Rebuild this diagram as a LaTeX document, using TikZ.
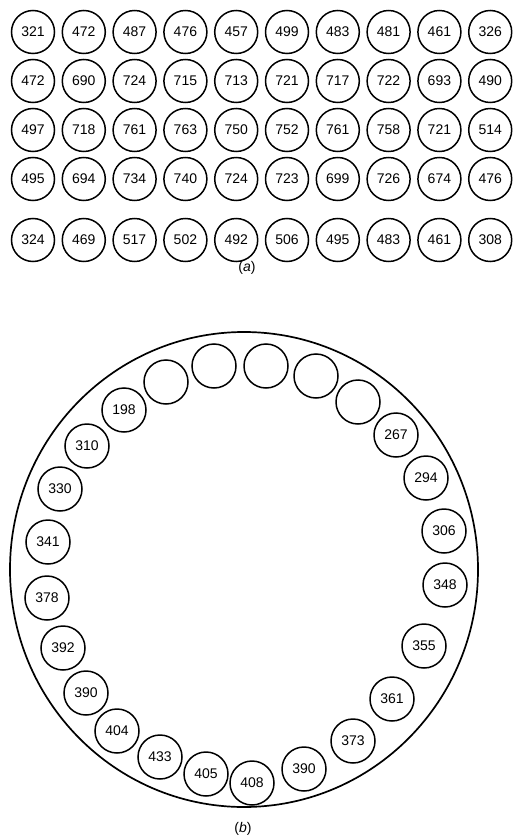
\documentclass[tikz,border=0pt]{standalone}
\usepackage{fontspec}
\setmainfont{Liberation Sans}
\usetikzlibrary{shapes.geometric}
\begin{document}
\begin{tikzpicture}[x=1pt,y=-1pt,
  cell/.style={draw, circle, line width=1.5pt, minimum size=43pt, inner sep=0pt, font=\fontsize{14}{16}\selectfont},
  ringcell/.style={draw, circle, line width=1.5pt, minimum size=44pt, inner sep=0pt, font=\fontsize{14}{16}\selectfont},
  caption/.style={font=\fontsize{14}{16}\selectfont}]
\useasboundingbox (0,0) rectangle (512,837);
% (a) grid
\foreach \row/\yy/\vals in {1/32/{321,472,487,476,457,499,483,481,461,326},
                            2/81/{472,690,724,715,713,721,717,722,693,490},
                            3/130/{497,718,761,763,750,752,761,758,721,514},
                            4/179/{495,694,734,740,724,723,699,726,674,476},
                            5/240/{324,469,517,502,492,506,495,483,461,308}}{
  \foreach \v [count=\c from 0] in \vals {
    \node[cell] (g-\row-\c) at ({33+50.8*\c},\yy) {\v};
  }
}
\node[caption] (capa) at (247,268) {(\textit{a})};
% (b) ring
\node[draw, ellipse, line width=1.7pt, minimum width=468pt, minimum height=475pt, inner sep=0pt] (outer) at (244,569.5) {};
\foreach \xx/\yy/\v [count=\i] in {166/382/{},214/366/{},266/366/{},316/376/{},358/402/{},
   396/435/267,426/478/294,444/531/306,445/585/348,424/646/355,392/699/361,353/741/373,
   304/769/390,252/783/408,206/774/405,160/757/433,117/731/404,86/693/390,63/648/392,
   47/598/378,48/542/341,60/489/330,87/446/310,124/410/198}{
  \node[ringcell] (r\i) at (\xx,\yy) {\v};
}
\node[caption] (capb) at (243,829) {(\textit{b})};
\end{tikzpicture}
\end{document}
